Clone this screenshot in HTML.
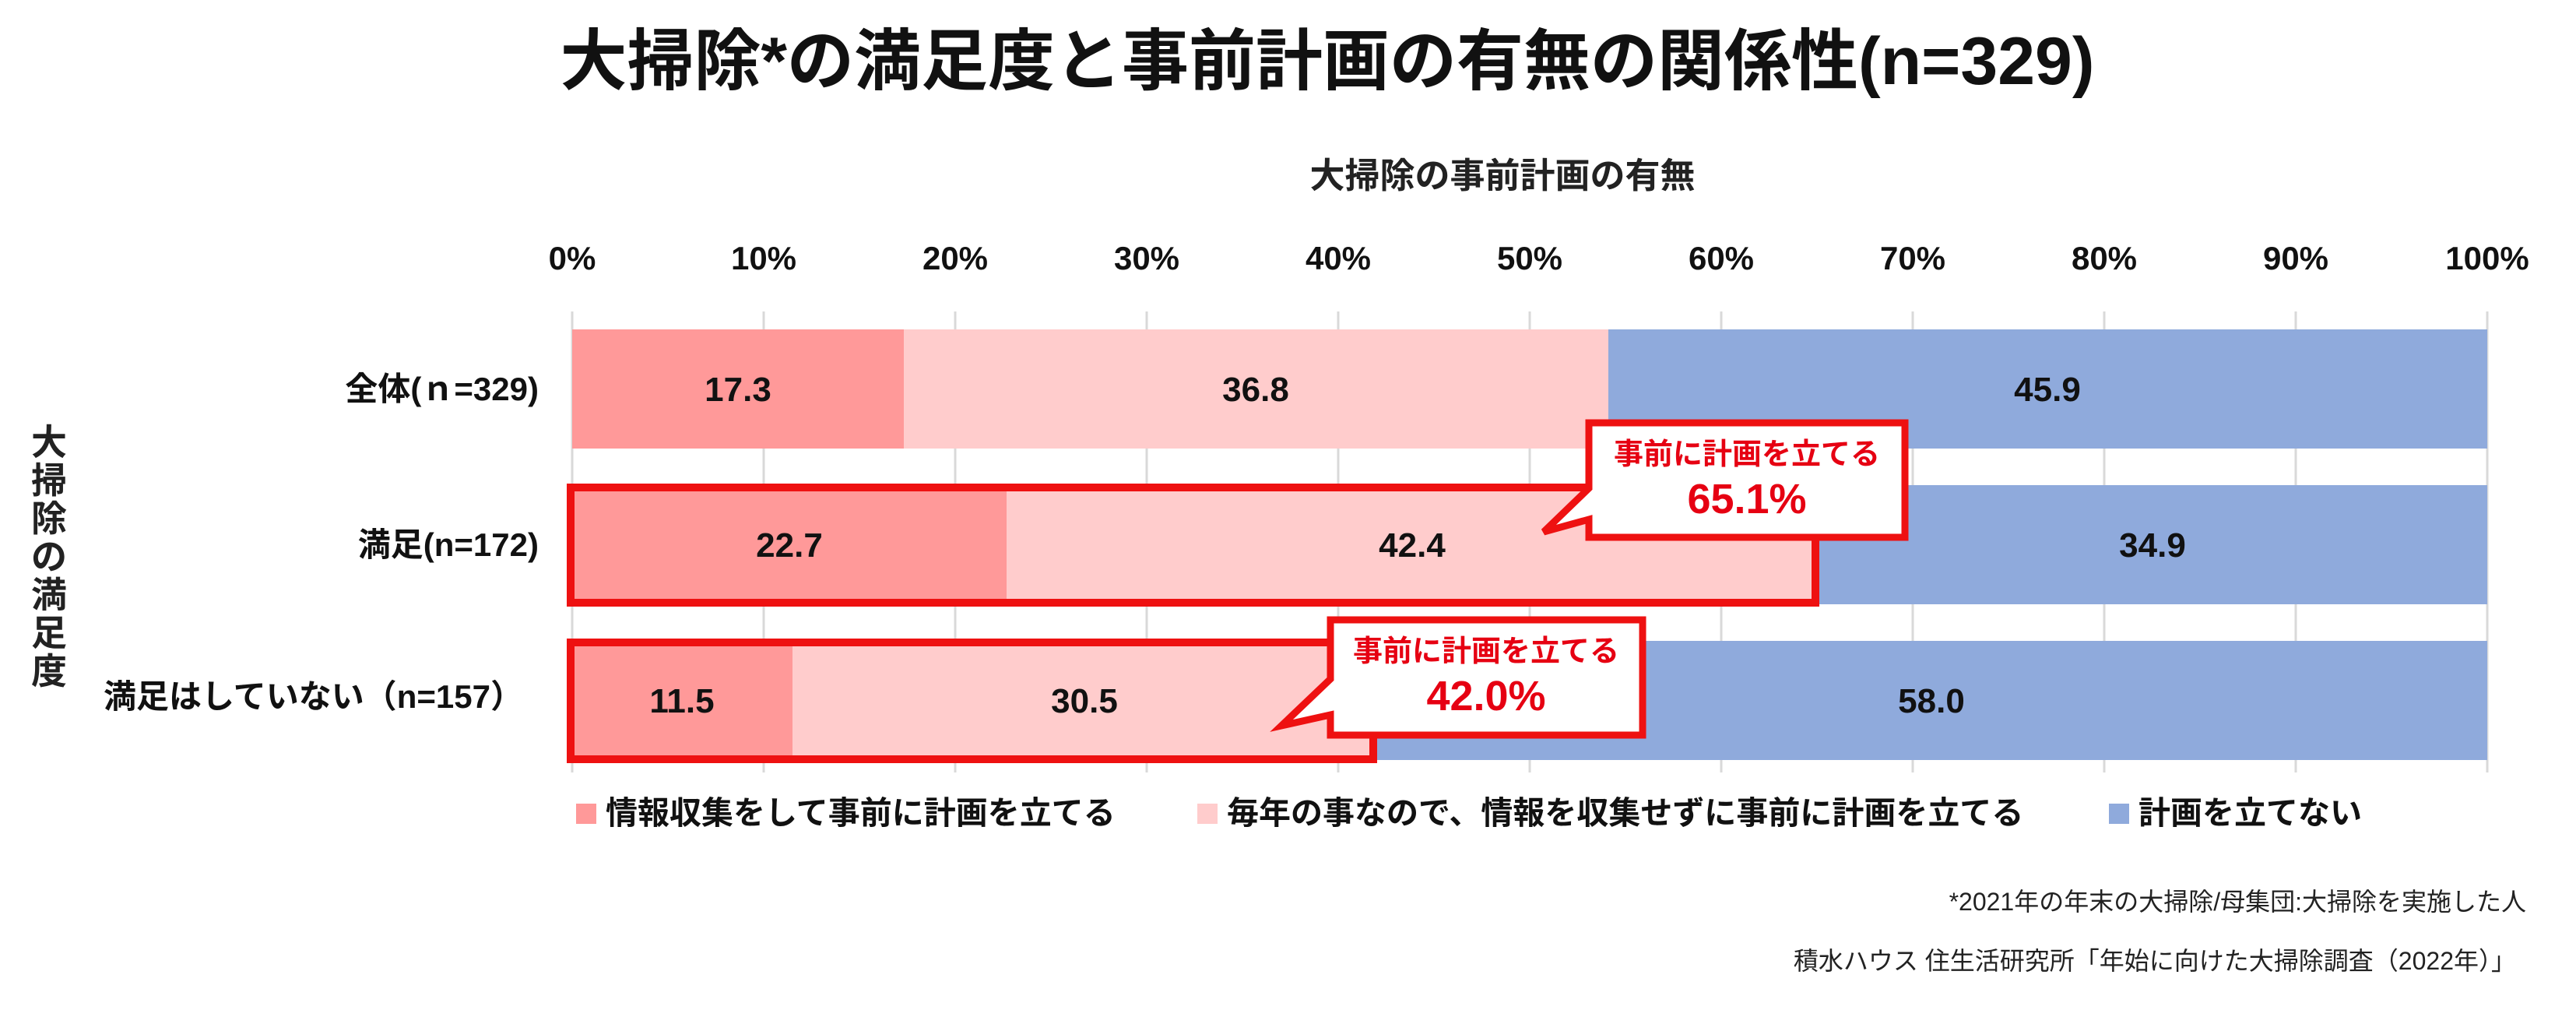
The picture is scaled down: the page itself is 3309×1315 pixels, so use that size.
<!DOCTYPE html>
<html><head><meta charset="utf-8"><style>
html,body{margin:0;padding:0;background:#fff;}
svg{display:block;}
text{font-family:"Liberation Sans","Noto Sans CJK JP",sans-serif;}
</style></head><body>
<svg width="3309" height="1315" viewBox="0 0 3309 1315" xmlns="http://www.w3.org/2000/svg">
<rect width="3309" height="1315" fill="#fff"/>
<text x="1705" y="108" font-size="86" font-weight="bold" text-anchor="middle" fill="#111">大掃除*の満足度と事前計画の有無の関係性(n=329)</text>
<text x="1930" y="241" font-size="45" font-weight="bold" text-anchor="middle" fill="#222">大掃除の事前計画の有無</text>
<g font-size="42" font-weight="bold" text-anchor="middle" fill="#111">
<text x="735" y="346">0%</text><text x="981" y="346">10%</text><text x="1227" y="346">20%</text><text x="1473" y="346">30%</text><text x="1719" y="346">40%</text><text x="1965" y="346">50%</text><text x="2211" y="346">60%</text><text x="2457" y="346">70%</text><text x="2703" y="346">80%</text><text x="2949" y="346">90%</text><text x="3195" y="346">100%</text>
</g>
<g stroke="#d9d9d9" stroke-width="3">
<line x1="735" y1="400" x2="735" y2="992"/><line x1="981" y1="400" x2="981" y2="992"/><line x1="1227" y1="400" x2="1227" y2="992"/><line x1="1473" y1="400" x2="1473" y2="992"/><line x1="1719" y1="400" x2="1719" y2="992"/><line x1="1965" y1="400" x2="1965" y2="992"/><line x1="2211" y1="400" x2="2211" y2="992"/><line x1="2457" y1="400" x2="2457" y2="992"/><line x1="2703" y1="400" x2="2703" y2="992"/><line x1="2949" y1="400" x2="2949" y2="992"/><line x1="3195" y1="400" x2="3195" y2="992"/>
</g>
<rect x="735" y="423" width="426" height="153" fill="#FF9999"/>
<rect x="1161" y="423" width="905" height="153" fill="#FFCCCC"/>
<rect x="2066" y="423" width="1129" height="153" fill="#8FAADC"/>
<rect x="735" y="623" width="558" height="153" fill="#FF9999"/>
<rect x="1293" y="623" width="1043" height="153" fill="#FFCCCC"/>
<rect x="2336" y="623" width="859" height="153" fill="#8FAADC"/>
<rect x="735" y="823" width="283" height="153" fill="#FF9999"/>
<rect x="1018" y="823" width="750" height="153" fill="#FFCCCC"/>
<rect x="1768" y="823" width="1427" height="153" fill="#8FAADC"/>
<g font-size="44" font-weight="bold" text-anchor="middle" fill="#111">
<text x="948" y="515">17.3</text><text x="1613" y="515">36.8</text><text x="2630" y="515">45.9</text>
<text x="1014" y="715">22.7</text><text x="1814" y="715">42.4</text><text x="2765" y="715">34.9</text>
<text x="876" y="915">11.5</text><text x="1393" y="915">30.5</text><text x="2481" y="915">58.0</text>
</g>
<rect x="733" y="626" width="1599" height="148" fill="none" stroke="#EE1111" stroke-width="10"/>
<rect x="733" y="825" width="1031" height="150" fill="none" stroke="#EE1111" stroke-width="10"/>
<path d="M2041 543 H2447 V690 H2041 V667 L1983 683 L2041 627 Z" fill="#fff" stroke="#EE1111" stroke-width="9"/>
<text x="2244" y="596" font-size="38" font-weight="bold" text-anchor="middle" fill="#E60012">事前に計画を立てる</text>
<text x="2244" y="659" font-size="54" font-weight="bold" text-anchor="middle" fill="#E60012">65.1%</text>
<path d="M1709 796 H2110 V944 H1709 V918 L1646 932 L1709 872 Z" fill="#fff" stroke="#EE1111" stroke-width="9"/>
<text x="1909" y="849" font-size="38" font-weight="bold" text-anchor="middle" fill="#E60012">事前に計画を立てる</text>
<text x="1909" y="912" font-size="54" font-weight="bold" text-anchor="middle" fill="#E60012">42.0%</text>
<g font-size="42" font-weight="bold" text-anchor="end" fill="#111">
<text x="692" y="514">全体(ｎ=329)</text>
<text x="692" y="714">満足(n=172)</text>
<text x="672" y="909">満足はしていない（n=157）</text>
</g>
<g font-size="46" font-weight="bold" text-anchor="middle" fill="#222">
<text x="63" y="584">大</text><text x="63" y="633">掃</text><text x="63" y="682">除</text><text x="63" y="731">の</text><text x="63" y="780">満</text><text x="63" y="829">足</text><text x="63" y="878">度</text>
</g>
<rect x="740" y="1032" width="26" height="26" fill="#FF9999"/>
<text x="778" y="1058" font-size="41" font-weight="bold" fill="#111">情報収集をして事前に計画を立てる</text>
<rect x="1538" y="1032" width="26" height="26" fill="#FFCCCC"/>
<text x="1576" y="1058" font-size="41" font-weight="bold" fill="#111">毎年の事なので、情報を収集せずに事前に計画を立てる</text>
<rect x="2709" y="1032" width="26" height="26" fill="#8FAADC"/>
<text x="2747" y="1058" font-size="41" font-weight="bold" fill="#111">計画を立てない</text>
<g font-size="32" text-anchor="end" fill="#222">
<text x="3245" y="1169">*2021年の年末の大掃除/母集団:大掃除を実施した人</text>
<text x="3232" y="1245">積水ハウス 住生活研究所「年始に向けた大掃除調査（2022年）」</text>
</g>
</svg>
</body></html>
